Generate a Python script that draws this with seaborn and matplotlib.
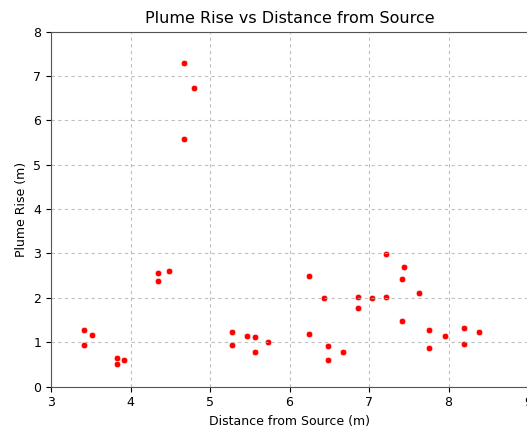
import matplotlib
matplotlib.use('Agg')
import matplotlib.pyplot as plt
import seaborn as sns
import pandas as pd

# Distance from source (m) and plume rise (m)
distance = [4.67, 4.80, 4.67,
            3.42, 3.51, 3.42, 3.83, 3.83, 3.92, 4.34, 4.34, 4.49,
            5.28, 5.28, 5.46, 5.57, 5.57, 5.73,
            6.25, 6.25, 6.44, 6.48, 6.48, 6.67, 6.86, 6.86, 7.04,
            7.22, 7.22, 7.44, 7.42, 7.42, 7.63, 7.75, 7.75, 7.96,
            8.20, 8.20, 8.38]
plume_rise = [7.30, 6.72, 5.57,
              1.27, 1.16, 0.94, 0.65, 0.51, 0.60, 2.57, 2.39, 2.60,
              1.23, 0.94, 1.14, 1.12, 0.77, 1.01,
              2.49, 1.18, 2.00, 0.91, 0.60, 0.79, 2.03, 1.77, 2.00,
              2.98, 2.03, 2.70, 2.42, 1.49, 2.12, 1.27, 0.86, 1.14,
              1.31, 0.97, 1.23]

df = pd.DataFrame({'distance': distance, 'rise': plume_rise})

fig = plt.figure(figsize=(5.27, 4.32), dpi=100)
ax = fig.add_axes([51 / 527, 0.105, 477 / 527, 0.822])

sns.scatterplot(data=df, x='distance', y='rise', color='red', s=22,
                edgecolor='white', linewidth=0.4, ax=ax)

ax.set_xlim(3, 9)
ax.set_ylim(0, 8)
ax.set_title('Plume Rise vs Distance from Source', fontsize=11.5)
ax.set_xlabel('Distance from Source (m)', fontsize=9)
ax.set_ylabel('Plume Rise (m)', fontsize=9)
ax.tick_params(labelsize=9)
ax.grid(True, linestyle=(0, (3, 3)), color='#b0b0b0', alpha=0.8)
for sp in ax.spines.values():
    sp.set_color('#555555')

fig.savefig('out.png', dpi=100)
